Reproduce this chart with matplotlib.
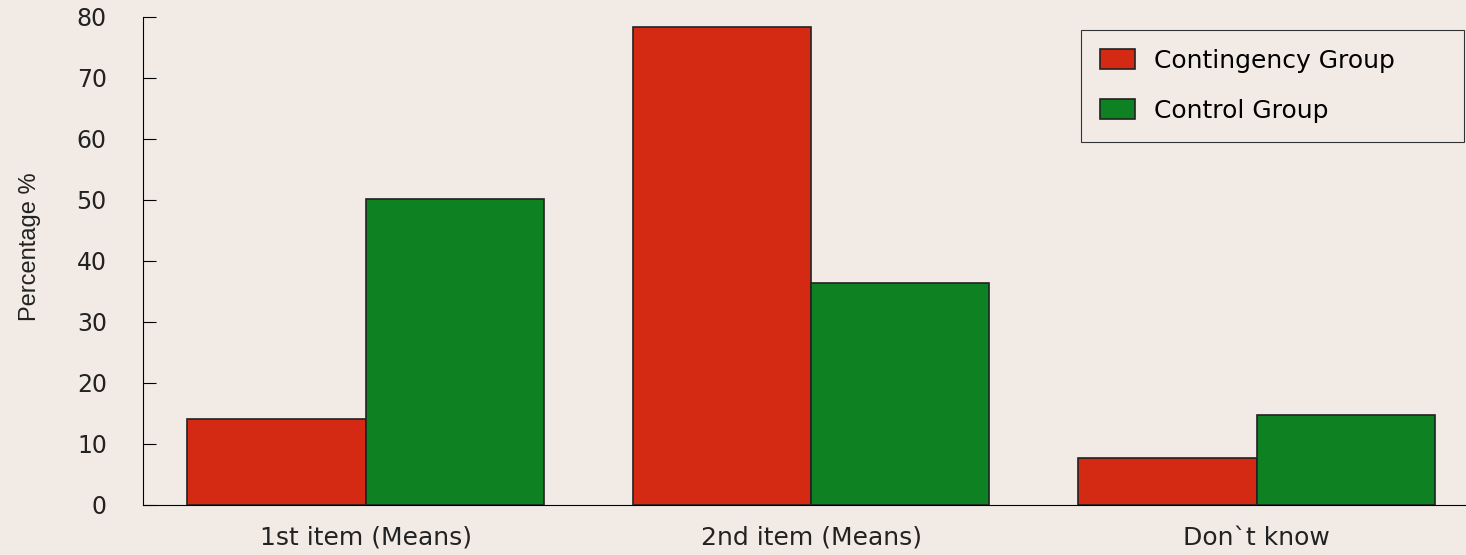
import matplotlib.pyplot as plt
import numpy as np

# survey answers, percent of each group
categories = ['1st item (Means)', '2nd item (Means)', 'Don`t know']
contingency = [14.1, 78.4, 7.7]
control = [50.2, 36.4, 14.8]
yticks = [0, 10, 20, 30, 40, 50, 60, 70, 80]

bg = '#f2ebe5'
red = '#d42a14'
green = '#0e8223'

fig = plt.figure(figsize=(14.66, 5.55), dpi=100, facecolor=bg)
ax = fig.add_axes([0.0975, 0.0901, 0.9025, 0.8793])
ax.set_facecolor(bg)

x = np.arange(len(categories))
w = 0.4
ax.bar(x - w / 2, contingency, w, color=red, edgecolor='#222222', linewidth=1.2,
       label='Contingency Group')
ax.bar(x + w / 2, control, w, color=green, edgecolor='#222222', linewidth=1.2,
       label='Control Group')

ax.set_xlim(-0.5, 2.47)
ax.set_ylim(0, 80)
ax.set_yticks(yticks)
ax.set_yticklabels([str(t) for t in yticks], fontsize=17, color='#222222')
ax.set_xticks(x)
ax.set_xticklabels(categories, fontsize=18, color='#222222')
ax.tick_params(axis='y', direction='in', length=9, width=0.8, pad=26)
ax.tick_params(axis='x', length=0, pad=15)

for s in ['top', 'right']:
    ax.spines[s].set_visible(False)
ax.spines['left'].set_linewidth(0.8)
ax.spines['bottom'].set_linewidth(0.8)

ax.set_ylabel('Percentage %', fontsize=17, family='Liberation Sans', color='#222222')
ax.yaxis.set_label_coords(-0.077, 0.53)

# legend box stretched to a fixed width in figure coords
leg = ax.legend(loc='upper left', bbox_to_anchor=(0.7374, 0.946, 0.2613, 0.0), mode='expand',
                bbox_transform=fig.transFigure,
                fontsize=18, frameon=True, fancybox=False, edgecolor='#333333',
                facecolor=bg, framealpha=1, handlelength=1.4, handleheight=0.85,
                labelspacing=1.05, borderpad=0.75, handletextpad=0.75, borderaxespad=0)
leg.get_frame().set_linewidth(0.8)

fig.savefig('out.png', dpi=100, facecolor=bg)
